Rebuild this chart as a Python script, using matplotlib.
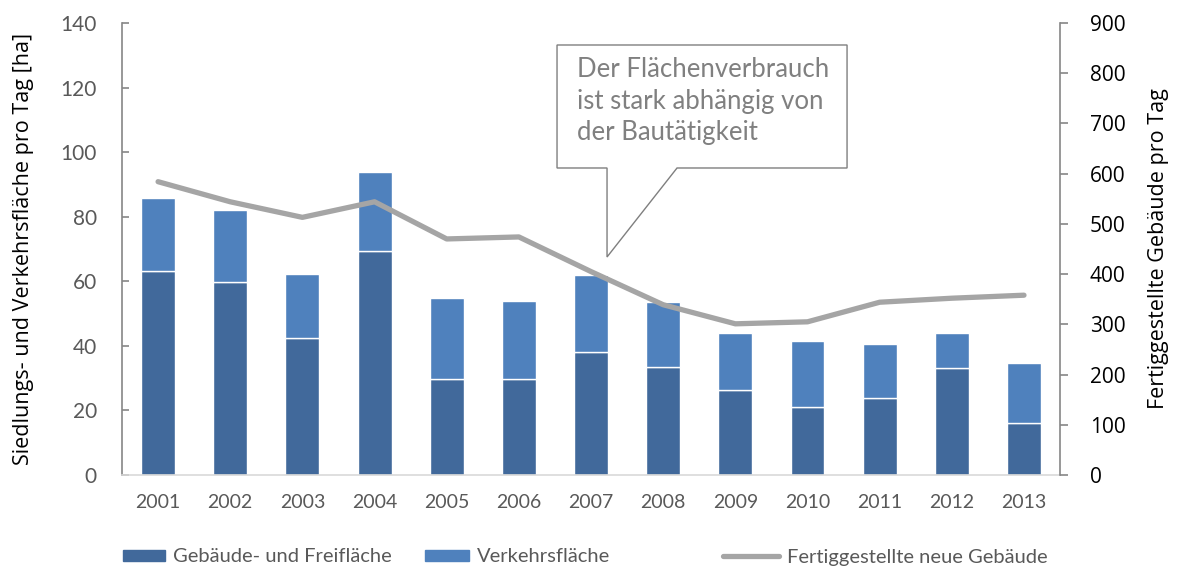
import numpy as np
import matplotlib
matplotlib.use("Agg")
import matplotlib.pyplot as plt
from matplotlib.patches import Polygon
from matplotlib.lines import Line2D

plt.rcParams['font.family'] = ['Lato', 'DejaVu Sans']

years = ['2001', '2002', '2003', '2004', '2005', '2006', '2007',
         '2008', '2009', '2010', '2011', '2012', '2013']
gebaeude_frei = [63.3, 59.8, 42.3, 69.5, 29.8, 29.8, 38.0,
                 33.4, 26.3, 21.2, 23.8, 33.2, 16.2]
verkehr = [22.5, 22.2, 20.0, 24.3, 24.9, 24.0, 23.9,
           20.2, 17.7, 20.2, 16.7, 10.7, 18.4]
neue_gebaeude = [584, 544, 513, 544, 470, 474, 405,
                 339, 301, 305, 344, 352, 358]

c_dark = '#41699b'
c_light = '#4f81bd'
c_line = '#a5a5a5'
c_text = '#595959'

fig = plt.figure(figsize=(11.81, 5.72), dpi=100)
ax = fig.add_axes([0.1033, 0.1696, 0.7943, 0.7902])
x = np.arange(len(years))

ax.bar(x, gebaeude_frei, width=0.47, color=c_dark, edgecolor='white', linewidth=1.0)
ax.bar(x, verkehr, width=0.47, bottom=gebaeude_frei, color=c_light,
       edgecolor='white', linewidth=1.0)
ax.set_xlim(-0.5, len(years) - 0.5)
ax.set_ylim(0, 140)
ax.set_yticks(range(0, 141, 20))
ax.set_xticks(x)
ax.set_xticklabels(years)
ax.tick_params(axis='x', length=0, pad=14, labelsize=14, labelcolor=c_text)
ax.tick_params(axis='y', direction='in', length=5, width=1.2, color='#868686',
               pad=18, labelsize=15, labelcolor=c_text)
ax.set_ylabel('Siedlungs- und Verkehrsfläche pro Tag [ha]', fontsize=15.5,
              family=['Open Sans', 'DejaVu Sans'], color='black', labelpad=19)
for s in ['top', 'right']:
    ax.spines[s].set_visible(False)
ax.spines['left'].set_color('#868686')
ax.spines['left'].set_linewidth(1.2)
ax.spines['bottom'].set_color('#d9d9d9')
ax.spines['bottom'].set_linewidth(1.2)

ax2 = ax.twinx()
ax2.plot(x, neue_gebaeude, color=c_line, linewidth=3.8, solid_capstyle='round')
ax2.set_ylim(0, 900)
ax2.set_yticks(range(0, 901, 100))
ax2.tick_params(axis='y', direction='out', length=5.5, width=1.2, color='#868686',
                pad=16, labelsize=15, labelcolor='black')
for lbl in ax2.get_yticklabels():
    lbl.set_family(['Open Sans', 'DejaVu Sans'])
ax2.set_ylabel('Fertiggestellte Gebäude pro Tag', fontsize=15.5,
               family=['Open Sans', 'DejaVu Sans'], color='black', labelpad=16)
for s in ['top', 'left', 'bottom']:
    ax2.spines[s].set_visible(False)
ax2.spines['right'].set_color('#868686')
ax2.spines['right'].set_linewidth(1.2)

# callout box (axes fraction coordinates)
def px(xp, yp):
    return ((xp - 122) / 938.0, (475 - yp) / 452.0)

pts = [px(557, 45), px(847, 45), px(847, 168), px(677, 168),
       px(607, 257), px(607, 168), px(557, 168)]
callout = Polygon(pts, closed=True, transform=ax2.transAxes, facecolor='white',
                  edgecolor='#7f7f7f', linewidth=1.0, zorder=5, clip_on=False)
ax2.add_patch(callout)
tx, ty = px(577, 57)
ax2.text(tx, ty, 'Der Flächenverbrauch\nist stark abhängig von\nder Bautätigkeit',
         transform=ax2.transAxes, ha='left', va='top', fontsize=18.5,
         color='#808080', linespacing=1.33, zorder=6)

# legend entries placed one by one
entries = [
    (plt.Rectangle((0, 0), 1, 1, color=c_dark), 'Gebäude- und Freifläche', 123 / 1181, 2.1),
    (plt.Rectangle((0, 0), 1, 1, color=c_light), 'Verkehrsfläche', 425 / 1181, 2.2),
    (Line2D([0], [0], color=c_line, linewidth=3.8, solid_capstyle='round'),
     'Fertiggestellte neue Gebäude', 723 / 1181, 2.8),
]
for h, lab, xpos, hl in entries:
    fig.legend([h], [lab], loc='center left', bbox_to_anchor=(xpos, 1 - 557 / 572),
               frameon=False, fontsize=14.5, labelcolor=c_text, borderpad=0,
               borderaxespad=0, handlelength=hl, handleheight=0.5,
               handletextpad=0.4)

fig.savefig('out.png', dpi=100)
